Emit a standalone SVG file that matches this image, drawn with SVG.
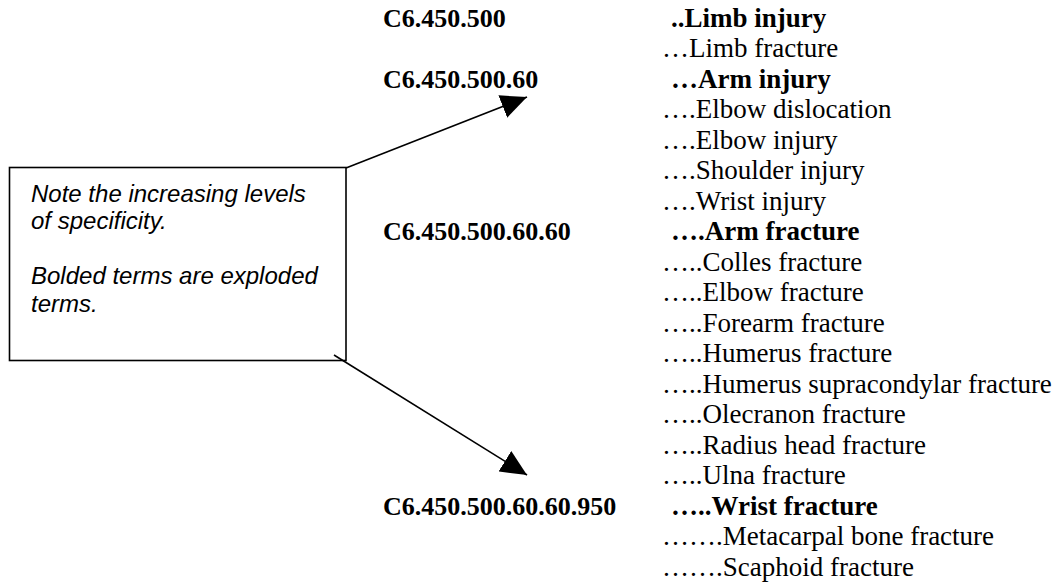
<svg xmlns="http://www.w3.org/2000/svg" width="1059" height="584" viewBox="0 0 1059 584">
<style>
.code{font-family:"Liberation Serif","Times New Roman",serif;font-size:26px;font-weight:bold;fill:#000}
.t{font-family:"Liberation Serif","Times New Roman",serif;font-size:27px;fill:#000}
.b{font-weight:bold}
.note{font-family:"Liberation Sans",Arial,sans-serif;font-size:24px;font-style:italic;fill:#000}
.box{fill:#fff;stroke:#000;stroke-width:1.6}
.conn{stroke:#000;stroke-width:1.6;fill:none}
</style>
<defs>
<marker id="ah" markerUnits="userSpaceOnUse" markerWidth="28" markerHeight="24" refX="26" refY="12" orient="auto">
<path d="M0,0 L26,12 L0,24 Z" fill="#000"/>
</marker>
</defs>
<rect width="1059" height="584" fill="#fff"/>
<g id="note">
<rect class="box" x="9.5" y="167.5" width="336.5" height="193"/>
<text class="note" x="31" y="202">Note the increasing levels</text>
<text class="note" x="31" y="229">of specificity.</text>
<text class="note" x="31" y="284">Bolded terms are exploded</text>
<text class="note" x="31" y="312">terms.</text>
</g>
<g id="connectors">
<line class="conn" x1="346" y1="168" x2="527" y2="97" marker-end="url(#ah)"/>
<line class="conn" x1="334" y1="355" x2="527" y2="475" marker-end="url(#ah)"/>
</g>
<g id="codes">
<text class="code" x="383" y="27">C6.450.500</text>
<text class="code" x="383" y="88">C6.450.500.60</text>
<text class="code" x="383" y="240">C6.450.500.60.60</text>
<text class="code" x="383" y="515">C6.450.500.60.60.950</text>
</g>
<g id="terms">
<text class="t b" x="671" y="27">..Limb injury</text>
<text class="t" x="662" y="57">…Limb fracture</text>
<text class="t b" x="671" y="88">…Arm injury</text>
<text class="t" x="662" y="118">….Elbow dislocation</text>
<text class="t" x="662" y="149">….Elbow injury</text>
<text class="t" x="662" y="179">….Shoulder injury</text>
<text class="t" x="662" y="210">….Wrist injury</text>
<text class="t b" x="671" y="240">….Arm fracture</text>
<text class="t" x="662" y="271">…..Colles fracture</text>
<text class="t" x="662" y="301">…..Elbow fracture</text>
<text class="t" x="662" y="332">…..Forearm fracture</text>
<text class="t" x="662" y="362">…..Humerus fracture</text>
<text class="t" x="662" y="393">…..Humerus supracondylar fracture</text>
<text class="t" x="662" y="423">…..Olecranon fracture</text>
<text class="t" x="662" y="454">…..Radius head fracture</text>
<text class="t" x="662" y="484">…..Ulna fracture</text>
<text class="t b" x="671" y="515">…..Wrist fracture</text>
<text class="t" x="662" y="545">…….Metacarpal bone fracture</text>
<text class="t" x="662" y="576">…….Scaphoid fracture</text>
</g>
</svg>
